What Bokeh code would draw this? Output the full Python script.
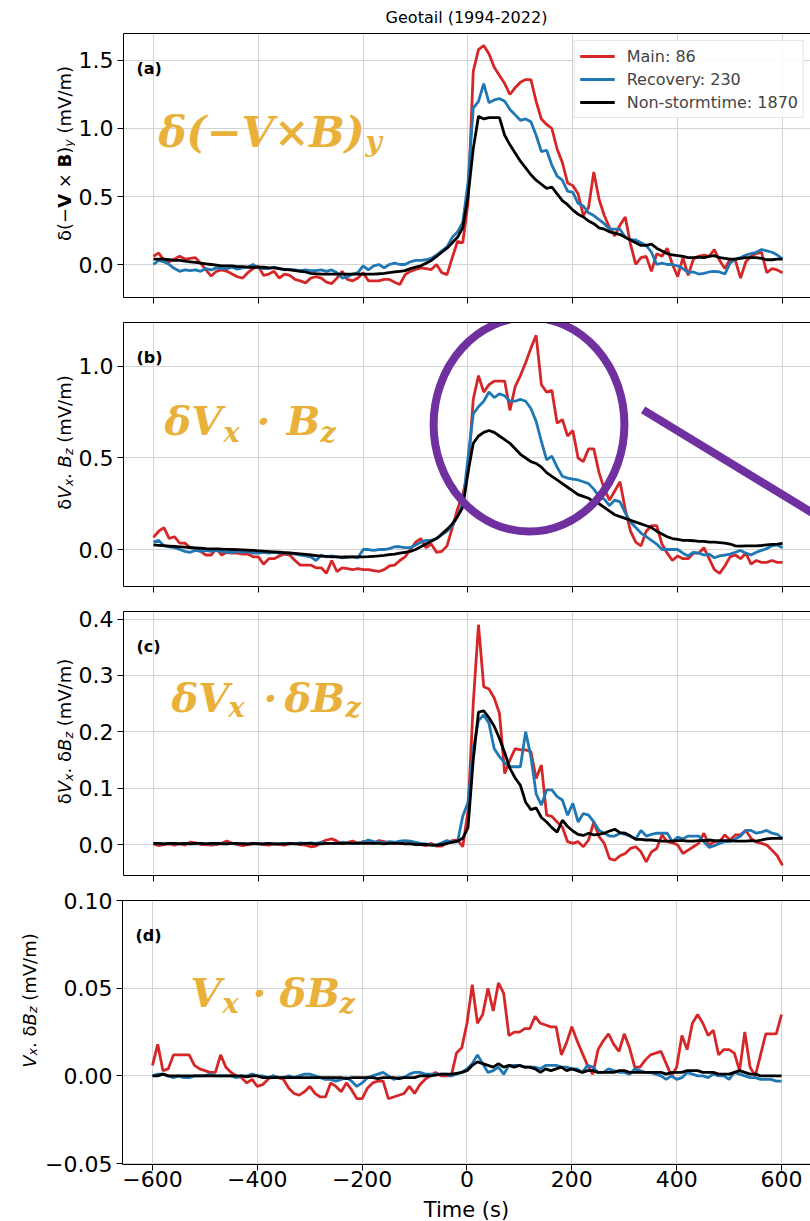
import math
from bokeh.plotting import figure
from bokeh.models import (Range1d, FixedTicker, CustomJSTickFormatter, LinearAxis, Label,
                          Legend, LegendItem, Arrow)
from bokeh.layouts import column, row
from bokeh.embed import file_html
from bokeh.resources import INLINE

# ---------------- data ----------------
time_s = list(range(-600, 601, 10))

a_main = [0.06, 0.085, 0.03, 0.02, 0.04, 0.06, 0.04, 0.045, 0.05, 0.01,
          -0.04, -0.085, -0.05, -0.04, -0.05, -0.07, -0.09, -0.1, -0.06, -0.03,
          -0.012, -0.08, -0.07, -0.05, -0.1, -0.07, -0.08, -0.11, -0.12, -0.135,
          -0.1, -0.09, -0.1, -0.13, -0.14, -0.1, -0.05, -0.11, -0.12, -0.1,
          -0.06, -0.12, -0.12, -0.12, -0.11, -0.11, -0.13, -0.147, -0.074, -0.05,
          -0.037, -0.025, -0.03, -0.037, 0.0, -0.06, -0.074, 0.05, 0.17, 0.16,
          0.45, 1.42, 1.58, 1.61, 1.55, 1.45, 1.39, 1.33, 1.25, 1.3,
          1.34, 1.36, 1.36, 1.2, 1.07, 1.03, 1.0, 0.85, 0.75, 0.6,
          0.58, 0.52, 0.36, 0.42, 0.68, 0.48, 0.36, 0.27, 0.21, 0.29,
          0.35, 0.15, 0.0, 0.05, 0.06, -0.05, 0.08, 0.06, 0.12, 0.0,
          -0.09, 0.05, -0.08, 0.04, 0.06, 0.07, 0.06, 0.11, 0.03, -0.03,
          0.04, 0.03, -0.1, 0.02, 0.06, 0.08, 0.09, -0.06, -0.03, -0.04,
          -0.06]
a_recovery = [0.0, 0.03, 0.02, 0.0, -0.03, -0.05, -0.04, -0.045, -0.04, -0.05,
              -0.03, -0.04, -0.025, -0.03, -0.03, -0.02, -0.035, -0.025, -0.02, 0.0,
              -0.025, -0.03, -0.03, -0.02, -0.03, -0.04, -0.035, -0.04, -0.045, -0.04,
              -0.045, -0.045, -0.04, -0.05, -0.04, -0.06, -0.1, -0.09, -0.07, -0.06,
              -0.01, -0.04, -0.01, 0.0, -0.025, 0.0, 0.01, 0.0, 0.0, 0.02,
              0.03, 0.03, 0.035, 0.045, 0.07, 0.1, 0.13, 0.2, 0.24, 0.31,
              0.6, 1.15, 1.2, 1.33, 1.19, 1.21, 1.22, 1.2, 1.14, 1.1,
              1.06, 1.07, 1.05, 0.95, 0.83, 0.84, 0.73, 0.65, 0.62, 0.54,
              0.53, 0.45, 0.43, 0.38, 0.36, 0.33, 0.30, 0.26, 0.26, 0.26,
              0.2, 0.18, 0.18, 0.16, 0.14, 0.09, 0.0, 0.01, 0.0, 0.0,
              -0.01, -0.03, -0.06, -0.055, -0.07, -0.065, -0.055, -0.05, -0.055, -0.07,
              0.01, 0.04, 0.05, 0.07, 0.08, 0.09, 0.11, 0.1, 0.09, 0.07,
              0.04]
a_nonstorm = [0.04, 0.04, 0.04, 0.035, 0.03, 0.03, 0.025, 0.02, 0.015, 0.01,
              0.005, 0.0, -0.005, -0.01, -0.01, -0.01, -0.015, -0.015, -0.02, -0.02,
              -0.02, -0.02, -0.025, -0.025, -0.03, -0.035, -0.04, -0.045, -0.05, -0.055,
              -0.065, -0.068, -0.07, -0.07, -0.07, -0.07, -0.07, -0.07, -0.07, -0.07,
              -0.07, -0.07, -0.07, -0.068, -0.065, -0.06, -0.055, -0.05, -0.045, -0.03,
              -0.02, -0.01, 0.01, 0.03, 0.06, 0.09, 0.12, 0.16, 0.2, 0.27,
              0.5, 0.85, 1.09, 1.07, 1.08, 1.08, 1.08, 0.95, 0.88, 0.82,
              0.76, 0.71, 0.66, 0.62, 0.59, 0.56, 0.57, 0.52, 0.47, 0.44,
              0.40, 0.37, 0.35, 0.32, 0.30, 0.27, 0.26, 0.24, 0.23, 0.22,
              0.20, 0.18, 0.16, 0.14, 0.14, 0.15, 0.12, 0.10, 0.08, 0.07,
              0.065, 0.06, 0.05, 0.05, 0.055, 0.05, 0.06, 0.065, 0.05, 0.045,
              0.04, 0.04, 0.045, 0.05, 0.05, 0.05, 0.045, 0.035, 0.035, 0.04,
              0.04]

b_main = [0.067, 0.1, 0.12, 0.06, 0.07, 0.035, 0.035, 0.01, 0.005, -0.01,
          -0.03, -0.03, 0.005, -0.03, -0.015, -0.02, -0.02, -0.025, -0.025, -0.04,
          -0.04, -0.08, -0.05, -0.05, -0.035, -0.025, -0.03, -0.06, -0.085, -0.085,
          -0.085, -0.1, -0.1, -0.13, -0.06, -0.12, -0.1, -0.105, -0.11, -0.105,
          -0.11, -0.11, -0.115, -0.12, -0.11, -0.09, -0.085, -0.06, -0.04, 0.0,
          0.04, 0.06, 0.01, 0.03, -0.015, -0.01, 0.02, 0.12, 0.22, 0.3,
          0.42, 0.82, 0.95, 0.86, 0.9, 0.92, 0.92, 0.92, 0.76, 0.89,
          0.95, 1.02, 1.1, 1.17, 0.9, 0.86, 0.87, 0.69, 0.71, 0.62,
          0.65, 0.5, 0.48, 0.55, 0.55, 0.42, 0.33, 0.27, 0.32, 0.37,
          0.22, 0.1, 0.04, 0.02, 0.1, 0.13, 0.13, 0.03, -0.02, -0.06,
          -0.035, -0.05, -0.05, -0.02, -0.02, 0.01, -0.05, -0.11, -0.13, -0.09,
          -0.04, -0.03, -0.05, -0.02, -0.08, -0.06, -0.07, -0.07, -0.06, -0.07,
          -0.07]
b_recovery = [0.04, 0.05, 0.02, 0.015, 0.01, 0.0, -0.01, -0.015, -0.005, -0.01,
              -0.005, -0.01, -0.005, -0.01, -0.015, -0.015, -0.01, -0.015, -0.01, -0.02,
              -0.02, -0.015, -0.02, -0.015, -0.02, -0.02, -0.02, -0.025, -0.03, -0.035,
              -0.04, -0.06, -0.03, -0.04, -0.035, -0.04, -0.045, -0.04, -0.04, -0.045,
              0.0, 0.0, -0.005, 0.0, 0.0, 0.005, 0.015, 0.015, 0.01, 0.01,
              0.025, 0.04, 0.05, 0.05, 0.06, 0.08, 0.1, 0.13, 0.18, 0.25,
              0.5, 0.74, 0.78, 0.81, 0.86, 0.83, 0.85, 0.84, 0.81, 0.81,
              0.82, 0.81, 0.77, 0.7, 0.59, 0.49, 0.51, 0.45, 0.4, 0.39,
              0.385, 0.38, 0.37, 0.36, 0.33, 0.29, 0.275, 0.24, 0.27, 0.26,
              0.2, 0.15, 0.12, 0.09, 0.07, 0.05, 0.03, 0.0, 0.0, 0.0,
              0.0, -0.02, -0.035, -0.015, -0.02, -0.03, -0.025, -0.045, -0.035, -0.03,
              -0.025, -0.015, -0.005, -0.02, -0.03, -0.015, -0.005, 0.005, 0.02, 0.025,
              0.01]
b_nonstorm = [0.025, 0.023, 0.021, 0.019, 0.017, 0.015, 0.013, 0.011, 0.009, 0.007,
              0.005, 0.004, 0.003, 0.002, 0.001, 0.0, -0.001, -0.002, -0.003, -0.005,
              -0.007, -0.009, -0.011, -0.013, -0.015, -0.017, -0.019, -0.021, -0.024, -0.027,
              -0.03, -0.033, -0.036, -0.038, -0.04, -0.04, -0.041, -0.041, -0.04, -0.04,
              -0.04, -0.039, -0.037, -0.035, -0.032, -0.028, -0.025, -0.02, -0.015, -0.01,
              0.0, 0.015, 0.03, 0.045, 0.06, 0.085, 0.11, 0.14, 0.18, 0.23,
              0.42, 0.58, 0.62, 0.64, 0.65, 0.64, 0.62, 0.6, 0.58, 0.55,
              0.52, 0.5, 0.48, 0.47, 0.45, 0.42, 0.4, 0.38, 0.36, 0.34,
              0.32, 0.3, 0.29, 0.28, 0.26, 0.25, 0.23, 0.21, 0.19, 0.18,
              0.17, 0.16, 0.15, 0.14, 0.13, 0.12, 0.1, 0.085, 0.07, 0.06,
              0.055, 0.05, 0.05, 0.048, 0.045, 0.045, 0.04, 0.04, 0.038, 0.035,
              0.03, 0.02, 0.018, 0.02, 0.02, 0.02, 0.022, 0.025, 0.028, 0.03,
              0.033]

c_main = [0.001, -0.002, 0.0, 0.001, -0.001, 0.002, -0.001, 0.004, 0.003, 0.0,
          0.0, -0.001, 0.0, 0.002, 0.006, 0.002, 0.0, -0.002, 0.0, 0.001,
          0.002, 0.0, -0.001, 0.001, 0.0, -0.001, 0.001, 0.002, 0.0, -0.001,
          -0.004, -0.003, 0.004, 0.008, 0.01, 0.006, 0.001, 0.004, 0.006, 0.002,
          0.005, 0.006, 0.002, 0.007, 0.005, 0.003, 0.002, 0.003, 0.001, 0.003,
          0.003, 0.0, -0.002, 0.002, -0.003, -0.003, 0.003, 0.007, 0.008, -0.004,
          0.06, 0.25, 0.39, 0.28, 0.276, 0.26, 0.233, 0.126, 0.15, 0.17,
          0.168, 0.168, 0.165, 0.117, 0.141, 0.052, 0.05, 0.04, 0.031, 0.005,
          0.002, 0.005, -0.004, 0.008, 0.04, 0.014, 0.002, -0.025, -0.028, -0.02,
          -0.016, -0.007, -0.004, -0.013, -0.031, -0.013, -0.007, 0.017, 0.005, 0.003,
          -0.001, -0.016, -0.01, -0.004, 0.002, 0.02, -0.001, 0.005, 0.005, 0.017,
          0.008, 0.017, 0.017, 0.025, 0.011, 0.004, 0.002, -0.001, -0.01, -0.02,
          -0.037]
c_recovery = [0.002, 0.001, 0.001, 0.002, 0.001, 0.001, 0.002, 0.001, 0.001, 0.002,
              0.001, 0.001, 0.001, 0.002, 0.001, 0.002, 0.001, 0.002, 0.001, 0.001,
              0.001, 0.001, 0.002, 0.001, 0.001, 0.002, 0.001, 0.001, 0.003, 0.002,
              0.003, 0.002, 0.004, 0.002, 0.002, 0.002, 0.004, 0.003, 0.002, 0.003,
              0.004, 0.008, 0.005, 0.004, 0.003, 0.005, 0.004, 0.006, 0.007, 0.006,
              0.004, 0.002, 0.001, -0.001, -0.001, 0.003, 0.007, 0.004, 0.005, 0.05,
              0.075, 0.17, 0.22, 0.23, 0.215, 0.17, 0.156, 0.145, 0.138, 0.138,
              0.138, 0.2, 0.156, 0.09, 0.07, 0.097, 0.097, 0.085, 0.079, 0.052,
              0.073, 0.04, 0.055, 0.052, 0.04, 0.025, 0.02, 0.015, 0.015, 0.02,
              0.018, 0.015, 0.01, 0.025, 0.015, 0.018, 0.02, 0.02, 0.02, 0.005,
              0.013, 0.01, 0.015, 0.015, 0.015, 0.005, -0.005, -0.002, 0.002, 0.005,
              0.005, 0.01, 0.015, 0.025, 0.025, 0.02, 0.022, 0.025, 0.02, 0.018,
              0.011]
c_nonstorm = [0.002, 0.002, 0.001, 0.002, 0.002, 0.001, 0.002, 0.001, 0.002, 0.002,
              0.001, 0.002, 0.002, 0.001, 0.001, 0.002, 0.002, 0.001, 0.001, 0.002,
              0.001, 0.001, 0.002, 0.001, 0.001, 0.001, 0.002, 0.001, 0.001, 0.002,
              0.002, 0.001, 0.001, 0.002, 0.002, 0.002, 0.002, 0.002, 0.002, 0.002,
              0.002, 0.002, 0.002, 0.002, 0.001, 0.002, 0.002, 0.002, 0.001, 0.001,
              0.0, 0.0, 0.0, -0.001, -0.001, 0.0, 0.002, 0.004, 0.006, 0.011,
              0.03, 0.15, 0.235, 0.237, 0.225, 0.21, 0.188, 0.163, 0.135, 0.118,
              0.105, 0.075, 0.062, 0.065, 0.048, 0.04, 0.03, 0.022, 0.043, 0.032,
              0.024, 0.018, 0.016, 0.02, 0.017, 0.018, 0.02, 0.024, 0.027, 0.021,
              0.02, 0.015, 0.009, 0.009, 0.008, 0.008, 0.007, 0.006, 0.006, 0.006,
              0.007, 0.007, 0.006, 0.006, 0.007, 0.007, 0.008, 0.007, 0.007, 0.007,
              0.007, 0.006, 0.006, 0.006, 0.007, 0.006, 0.008, 0.01, 0.011, 0.011,
              0.011]

d_main = [0.006, 0.018, 0.003, 0.004, 0.012, 0.012, 0.012, 0.012, 0.006, 0.004,
          0.003, 0.002, 0.002, 0.012, 0.005, 0.002, 0.0, -0.001, -0.004, -0.002,
          -0.006, -0.005, -0.002, 0.0, -0.001, -0.002, -0.007, -0.01, -0.011, -0.009,
          -0.006, -0.01, -0.012, -0.012, -0.004, -0.006, -0.009, -0.004, -0.008, -0.013,
          -0.013, -0.007, -0.004, -0.003, -0.003, -0.013, -0.012, -0.011, -0.01, -0.006,
          -0.01, -0.005, -0.002, 0.0, 0.002, 0.0, 0.0, 0.0, 0.013, 0.016,
          0.03, 0.052, 0.03, 0.035, 0.05, 0.037, 0.053, 0.047, 0.023, 0.025,
          0.025, 0.027, 0.027, 0.034, 0.03, 0.029, 0.028, 0.028, 0.012, 0.019,
          0.028, 0.02, 0.013, 0.006, 0.001, 0.015, 0.02, 0.024, 0.018, 0.014,
          0.024, 0.016, 0.005, 0.005, 0.009, 0.012, 0.013, 0.014, 0.007, 0.0,
          0.005, 0.023, 0.015, 0.03, 0.035, 0.03, 0.023, 0.026, 0.012, 0.015,
          0.015, 0.013, 0.003, 0.025, 0.005, 0.0, 0.012, 0.024, 0.024, 0.024,
          0.035]
d_recovery = [0.0, 0.001, 0.001, 0.0, -0.001, 0.0, -0.001, -0.001, 0.0, 0.0,
              0.0, 0.001, 0.0, 0.0, 0.0, 0.0, -0.001, 0.0, 0.0, 0.001,
              0.0, 0.0, -0.001, 0.0, -0.001, -0.001, 0.0, -0.001, 0.0, 0.001,
              0.001, 0.0, -0.001, -0.002, -0.002, -0.003, -0.002, -0.001, -0.003, -0.006,
              -0.004, -0.001, 0.0, 0.001, 0.002, 0.0, -0.002, -0.001, -0.001, 0.001,
              0.002, 0.002, 0.001, 0.001, 0.001, 0.001, 0.001, 0.0, 0.001, 0.002,
              0.004, 0.007, 0.012, 0.007, 0.002, 0.003, 0.005, 0.001, 0.006, 0.006,
              0.006, 0.005, 0.005, 0.005, 0.004, 0.006, 0.006, 0.006, 0.005, 0.005,
              0.004, 0.004, 0.002, 0.006, 0.005, 0.002, 0.002, 0.004, 0.003, 0.002,
              0.002, 0.001, 0.004, 0.003, 0.002, 0.002, 0.001, 0.0, -0.002, 0.0,
              -0.002, -0.001, 0.002, 0.001, 0.0, 0.0, -0.001, 0.001, 0.0, 0.0,
              -0.002, 0.002, 0.001, 0.0, -0.001, -0.001, -0.002, -0.002, -0.002, -0.003,
              -0.003]
d_nonstorm = [0.0, 0.0, 0.001, 0.0, 0.0, 0.0, 0.0, 0.0, 0.0, 0.0,
              0.0, 0.0, 0.0, 0.0, 0.0, 0.0, 0.0, 0.0, -0.0005, 0.0,
              0.0, -0.001, -0.001, -0.001, -0.001, -0.001, -0.001, -0.001, -0.001, -0.001,
              -0.001, -0.001, -0.001, -0.001, -0.001, -0.001, -0.001, -0.0015, -0.001, -0.001,
              -0.001, -0.001, -0.001, -0.0015, -0.001, -0.001, -0.001, -0.0015, -0.001, -0.001,
              -0.001, 0.0, 0.0, 0.0, 0.0005, 0.001, 0.001, 0.001, 0.0015, 0.002,
              0.003, 0.006, 0.008, 0.007, 0.006, 0.005, 0.007, 0.005, 0.006, 0.005,
              0.006, 0.005, 0.005, 0.004, 0.002, 0.004, 0.003, 0.004, 0.005, 0.003,
              0.004, 0.003, 0.002, 0.003, 0.003, 0.002, 0.002, 0.002, 0.002, 0.003,
              0.003, 0.002, 0.002, 0.002, 0.002, 0.002, 0.002, 0.002, 0.001, 0.002,
              0.002, 0.002, 0.003, 0.003, 0.003, 0.002, 0.002, 0.002, 0.001, 0.001,
              0.001, 0.002, 0.003, 0.002, 0.001, 0.001, 0.0, 0.0, 0.0, 0.0,
              0.0]

series_names = ["Main: 86", "Recovery: 230", "Non-stormtime: 1870"]
x_ticks = [-600, -400, -200, 0, 200, 400, 600]
panel_letters = ["(a)", "(b)", "(c)", "(d)"]
title_text = "Geotail (1994-2022)"
x_label_text = "Time (s)"

for arr in (a_main, a_recovery, a_nonstorm, b_main, b_recovery, b_nonstorm,
            c_main, c_recovery, c_nonstorm, d_main, d_recovery, d_nonstorm):
    if len(arr) != len(time_s):
        raise ValueError("bad length %d" % len(arr))

# ---------------- style ----------------
RED, BLUE, BLACK = "#d62728", "#1f77b4", "#000000"
ORANGE = "#E9B13A"
PURPLE = "#7030A0"
FONT = "DejaVu Sans"
SERIF = "DejaVu Serif"
LW = 2.8
YLAB = 18

EM = {" ": .318, "(": .390, ")": .390, "\u2212": .838, "\u00d7": .838, "\u03b4": .613,
      "m": .974, "V": .684, "/": .337, ".": .318, "B": .686, "y": .592, "x": .592, "z": .525}
EM_BOLD = {"V": .774, "B": .762}


def piece_width(s, size, style):
    tot = 0.0
    for ch in s:
        if "bold" in style and ch in EM_BOLD:
            tot += EM_BOLD[ch]
        else:
            tot += EM.get(ch, 0.6)
    return tot * size


def blank_fig(w, h):
    f = figure(width=w, height=h, x_range=Range1d(0, w), y_range=Range1d(0, h),
               toolbar_location=None, tools="", output_backend="svg",
               x_axis_location=None, y_axis_location=None, min_border=0)
    f.outline_line_color = None
    f.xgrid.visible = False
    f.ygrid.visible = False
    f.background_fill_color = "white"
    f.border_fill_color = "white"
    return f


def label_fig(w, h, pieces, center, base_x, size=YLAB, sub_dx=4):
    f = blank_fig(w, h)
    sizes = [size * 0.7 if sub else size for _, _, sub in pieces]
    widths = [piece_width(t, s, st) for (t, st, _), s in zip(pieces, sizes)]
    y = center - sum(widths) / 2
    for (t, st, sub), s, w in zip(pieces, sizes, widths):
        lead = len(t) - len(t.lstrip(" "))
        txt = t.strip(" ")
        if txt:
            f.add_layout(Label(x=base_x + (sub_dx if sub else 0), y=y + lead * EM[" "] * s,
                               x_units="screen", y_units="screen", text=txt,
                               angle=math.pi / 2, text_font=FONT,
                               text_font_size="%.1fpx" % s, text_font_style=st,
                               text_align="left", text_baseline="alphabetic",
                               text_color="black"))
        y += w
    return f


def add_formula(p, pieces):
    for txt, x, y, size in pieces:
        p.add_layout(Label(x=x, y=y, x_units="screen", y_units="screen", text=txt,
                           text_font=SERIF, text_font_style="bold italic",
                           text_font_size="%dpx" % size, text_color=ORANGE,
                           text_align="left", text_baseline="alphabetic"))


def make_fig(yr, yticks, ydec, left, top, bottom, show_x, letter):
    p = figure(frame_width=688, frame_height=264,
               x_range=Range1d(-657.2, 655.3), y_range=Range1d(*yr),
               toolbar_location=None, tools="", output_backend="svg",
               min_border_left=left, min_border_right=0,
               min_border_top=top, min_border_bottom=bottom)
    p.outline_line_color = None
    p.background_fill_color = "white"
    p.border_fill_color = "white"
    xa = p.xaxis[0]
    ya = p.yaxis[0]
    xa.ticker = FixedTicker(ticks=x_ticks)
    ya.ticker = FixedTicker(ticks=yticks)
    xa.formatter = CustomJSTickFormatter(code="return tick.toFixed(0).replace('-', '\u2212');")
    ya.formatter = CustomJSTickFormatter(args=dict(d=ydec),
                                         code="return tick.toFixed(d).replace('-', '\u2212');")
    for ax in (xa, ya):
        ax.minor_tick_line_color = None
        ax.major_tick_in = 0
        ax.major_tick_out = 6
        ax.major_tick_line_color = "black"
        ax.axis_line_color = "black"
        ax.major_label_text_font = FONT
        ax.major_label_text_font_size = "22px"
        ax.major_label_text_color = "black"
    ya.major_label_standoff = 4
    xa.major_label_standoff = 0
    if not show_x:
        xa.major_label_text_color = None
        xa.major_label_text_font_size = "1px"
    top_ax = LinearAxis(ticker=FixedTicker(ticks=[]), major_tick_out=0, major_tick_in=0,
                        minor_tick_out=0, minor_tick_in=0, major_label_standoff=0,
                        major_label_text_color=None, major_label_text_font_size="1px",
                        axis_line_color="black")
    p.add_layout(top_ax, "above")
    p.xgrid.grid_line_color = "#d3d3d3"
    p.ygrid.grid_line_color = "#d3d3d3"
    p.add_layout(Label(x=13, y=229, x_units="screen", y_units="screen", text=letter,
                       text_font=FONT, text_font_style="bold", text_font_size="16px",
                       text_baseline="middle", text_color="black"))
    return p


def draw_lines(p, main, rec, non):
    r1 = p.line(time_s, main, line_color=RED, line_width=LW)
    r2 = p.line(time_s, rec, line_color=BLUE, line_width=LW)
    r3 = p.line(time_s, non, line_color=BLACK, line_width=LW)
    return [r1, r2, r3]


# ---------------- title strip ----------------
title_fig = blank_fig(810, 30)
title_fig.add_layout(Label(x=466, y=13, x_units="screen", y_units="screen", text=title_text,
                           text_font=FONT, text_font_size="16px", text_align="center",
                           text_baseline="middle", text_color="black"))

LW_A = 75   # width of label column for panels a-c
LW_D = 42   # width of label column for panel d

# ---------------- panel (a) ----------------
pa = make_fig((-0.2426, 1.6985), [0, 0.5, 1.0, 1.5], 1, 122 - LW_A, 3, 12, False, panel_letters[0])
ra = draw_lines(pa, a_main, a_recovery, a_nonstorm)
leg = Legend(items=[LegendItem(label=n, renderers=[r]) for n, r in zip(series_names, ra)],
             location="top_right", margin=7, padding=5, spacing=3,
             label_text_font=FONT, label_text_font_size="16px", label_height=20,
             glyph_height=20, glyph_width=35, label_standoff=12,
             border_line_color="#cccccc", background_fill_alpha=0.85)
pa.add_layout(leg)
add_formula(pa, [("\u03b4(\u2212V\u00d7B)", 35, 165, 42), ("y", 242, 156, 28)])
la = label_fig(LW_A, 279, [("\u03b4(\u2212", "normal", False), ("V", "bold", False),
                           (" \u00d7 ", "normal", False), ("B", "bold", False),
                           (")", "normal", False), ("y", "italic", True),
                           (" (mV/m)", "normal", False)], 12 + 132, 64)

# ---------------- panel (b) ----------------
pb = make_fig((-0.202, 1.240), [0, 0.5, 1.0], 1, 122 - LW_A, 13, 12, False, panel_letters[1])
draw_lines(pb, b_main, b_recovery, b_nonstorm)
pb.ellipse(x=[116.4], y=[0.683], width=[364], height=[1.17], fill_color=None,
           line_color=PURPLE, line_width=8)
pb.add_layout(Arrow(end=None, x_start=334, y_start=0.763, x_end=693.5, y_end=0.136,
                    line_color=PURPLE, line_width=8))
add_formula(pb, [("\u03b4V", 41, 166, 40), ("x", 100, 154, 27), ("\u00b7", 133, 166, 40),
                 ("B", 163, 166, 40), ("z", 197, 154, 27)])
lb = label_fig(LW_A, 289, [("\u03b4", "normal", False), ("V", "italic", False),
                           ("x", "italic", True), (". ", "normal", False),
                           ("B", "italic", False), ("z", "italic", True),
                           (" (mV/m)", "normal", False)], 12 + 132, 64)

# ---------------- panel (c) ----------------
pc = make_fig((-0.055, 0.4135), [0, 0.1, 0.2, 0.3, 0.4], 1, 122 - LW_A, 13, 12, False,
              panel_letters[2])
draw_lines(pc, c_main, c_recovery, c_nonstorm)
add_formula(pc, [("\u03b4V", 48, 178, 40), ("x", 105, 168, 27), ("\u00b7", 140, 178, 40),
                 ("\u03b4B", 161, 178, 40), ("z", 222, 168, 27)])
lc = label_fig(LW_A, 289, [("\u03b4", "normal", False), ("V", "italic", False),
                           ("x", "italic", True), (". ", "normal", False),
                           ("\u03b4", "normal", False), ("B", "italic", False),
                           ("z", "italic", True), (" (mV/m)", "normal", False)], 12 + 132, 64)

# ---------------- panel (d) ----------------
pd_ = make_fig((-0.0505, 0.10), [-0.05, 0, 0.05, 0.10], 2, 122 - LW_D, 13, 32, True,
               panel_letters[3])
draw_lines(pd_, d_main, d_recovery, d_nonstorm)
add_formula(pd_, [("V", 68, 172, 40), ("x", 100, 161, 27), ("\u00b7", 130, 172, 40),
                  ("\u03b4B", 157, 172, 40), ("z", 217, 161, 27)])
ld = label_fig(LW_D, 309, [("V", "italic", False), ("x", "italic", True),
                           (". ", "normal", False), ("\u03b4", "normal", False),
                           ("B", "italic", False), ("z", "italic", True),
                           (" (mV/m)", "normal", False)], 32 + 132, 29, sub_dx=3)

# ---------------- x label strip ----------------
xlab_fig = blank_fig(810, 25)
xlab_fig.add_layout(Label(x=466, y=12, x_units="screen", y_units="screen", text=x_label_text,
                          text_font=FONT, text_font_size="21px", text_align="center",
                          text_baseline="middle", text_color="black"))

layout = column(title_fig, row(la, pa, spacing=0), row(lb, pb, spacing=0),
                row(lc, pc, spacing=0), row(ld, pd_, spacing=0), xlab_fig, spacing=0)
open("out.html", "w").write(file_html(layout, INLINE))
